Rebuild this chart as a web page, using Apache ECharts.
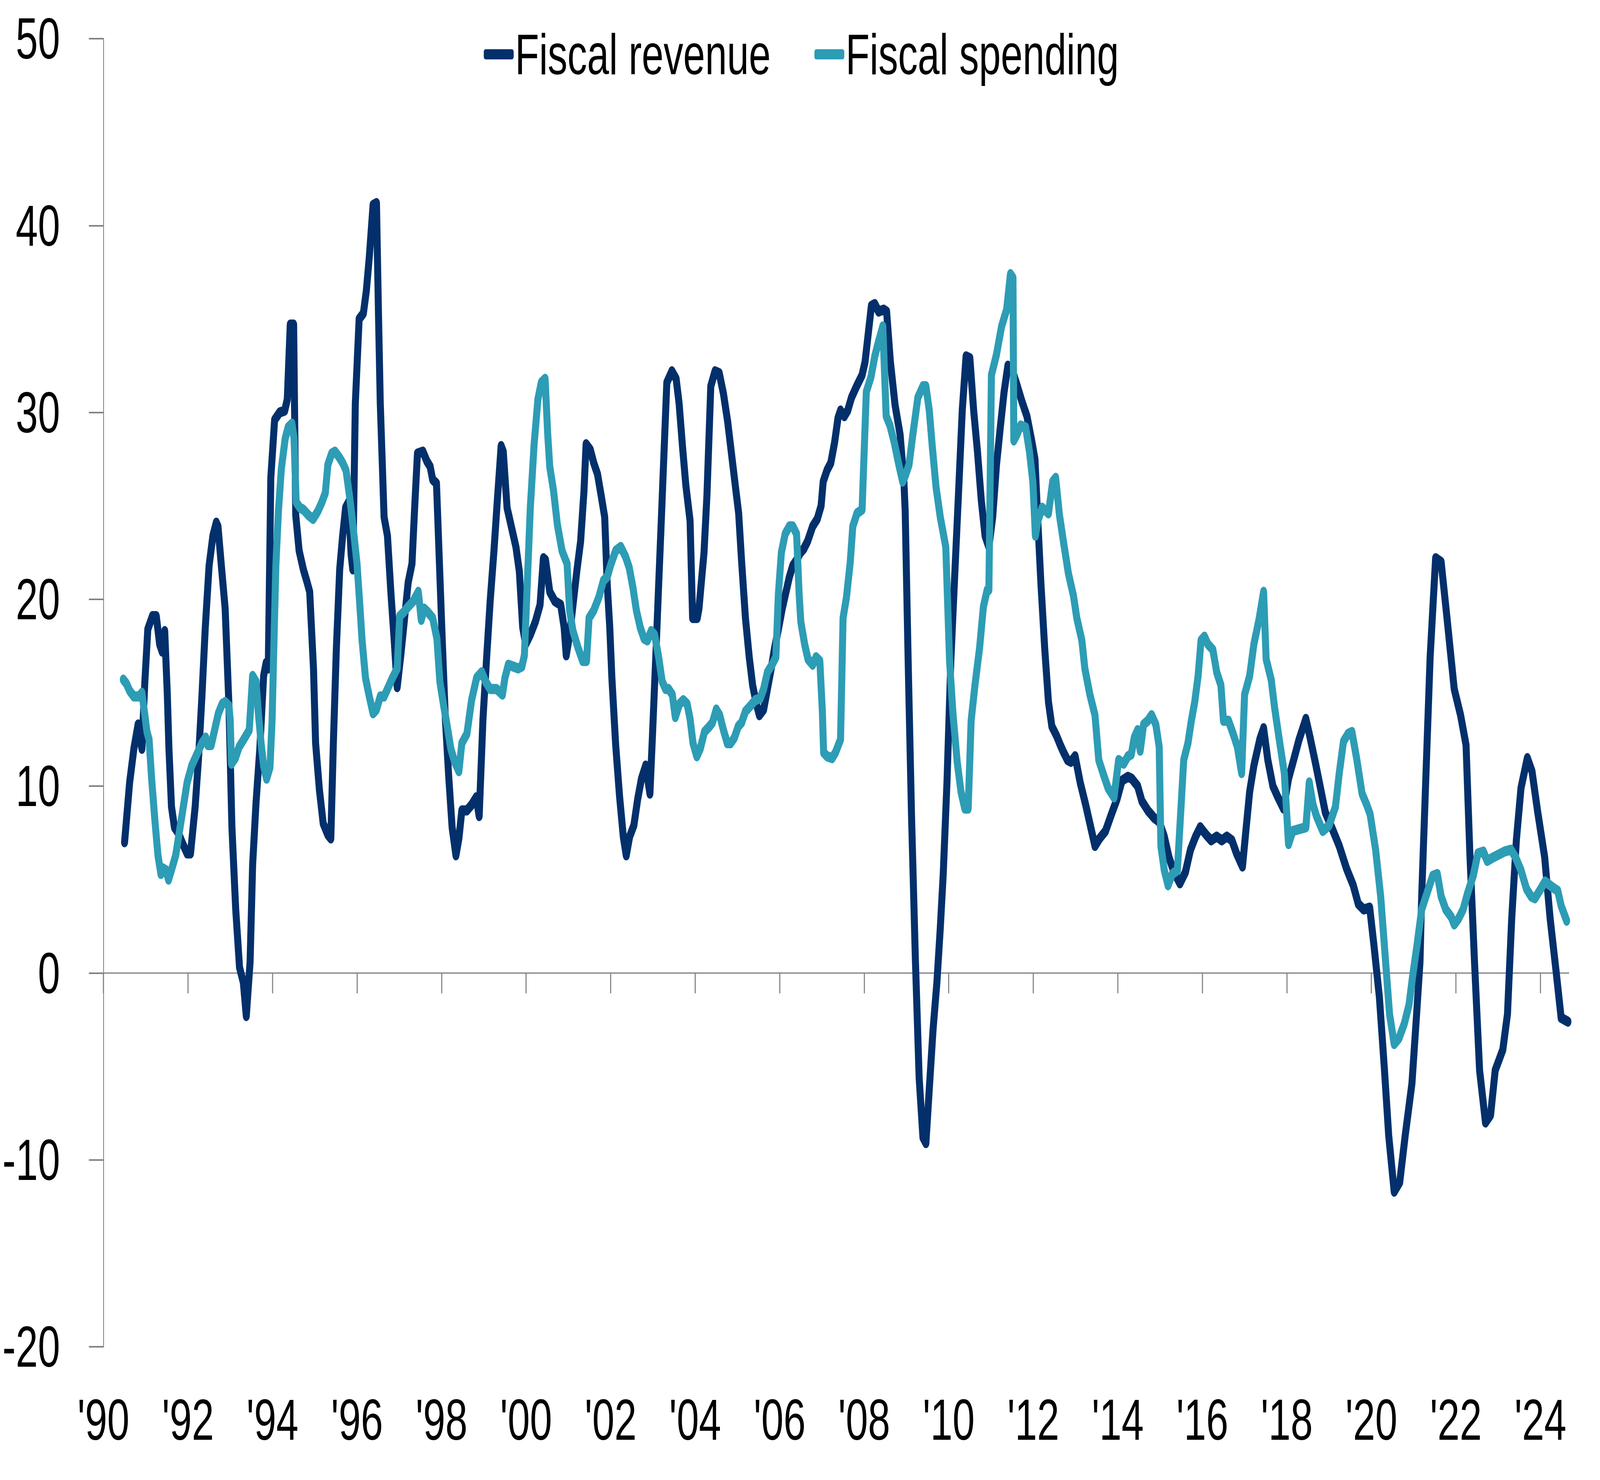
<!DOCTYPE html>
<html>
<head>
<meta charset="utf-8">
<script src="https://cdn.jsdelivr.net/npm/echarts@6/dist/echarts.min.js"></script>
<style>
html,body{margin:0;padding:0;background:#ffffff;overflow:hidden;width:100%;height:100%;}
#wrap{position:absolute;left:0;top:0;width:5940px;height:3788px;transform-origin:0 0;}
#chart{width:5940px;height:3788px;}
</style>
</head>
<body>
<div id="wrap"><div id="chart"></div></div>
<script>
const seriesNames = ['Fiscal revenue', 'Fiscal spending'];
const tickYears = [1990,1992,1994,1996,1998,2000,2002,2004,2006,2008,2010,2012,2014,2016,2018,2020,2022,2024];

const revenueYears = [
1990.50,1990.62,1990.72,1990.82,1990.91,1990.98,1991.05,1991.16,1991.25,1991.33,1991.39,1991.45,1991.51,1991.55,1991.61,1991.68,1991.77,1991.86,1991.98,
1992.06,1992.17,1992.25,1992.33,1992.41,1992.50,1992.59,1992.67,1992.71,1992.79,1992.88,1992.97,1993.04,1993.13,1993.22,1993.31,1993.38,1993.47,1993.53,
1993.61,1993.70,1993.79,1993.85,1993.90,1993.96,1994.05,1994.17,1994.29,1994.35,1994.42,1994.50,1994.55,1994.63,1994.73,1994.82,1994.88,1994.97,1995.02,
1995.11,1995.20,1995.31,1995.38,1995.44,1995.51,1995.59,1995.66,1995.73,1995.80,1995.86,1995.90,1995.96,1996.05,1996.15,1996.22,1996.29,1996.38,1996.46,
1996.51,1996.55,1996.64,1996.72,1996.80,1996.88,1996.95,1997.04,1997.13,1997.21,1997.30,1997.37,1997.43,1997.56,1997.65,1997.73,1997.79,1997.88,1997.95,
1998.02,1998.09,1998.17,1998.25,1998.34,1998.41,1998.48,1998.60,1998.71,1998.82,1998.89,1998.98,1999.07,1999.15,1999.24,1999.32,1999.41,1999.46,1999.55,
1999.67,1999.76,1999.84,1999.92,1999.99,2000.10,2000.22,2000.33,2000.41,2000.46,2000.56,2000.68,2000.82,2000.90,2000.95,2001.03,2001.11,2001.20,2001.29,
2001.37,2001.42,2001.52,2001.60,2001.69,2001.78,2001.86,2001.92,2001.98,2002.03,2002.12,2002.21,2002.30,2002.37,2002.45,2002.55,2002.64,2002.73,2002.83,
2002.93,2002.99,2003.07,2003.13,2003.19,2003.25,2003.33,2003.45,2003.55,2003.62,2003.70,2003.78,2003.88,2003.94,2004.05,2004.09,2004.21,2004.28,2004.37,
2004.47,2004.57,2004.67,2004.77,2004.87,2004.96,2005.03,2005.10,2005.19,2005.28,2005.36,2005.45,2005.52,2005.62,2005.71,2005.80,2005.88,2005.97,2006.06,
2006.14,2006.23,2006.31,2006.40,2006.49,2006.57,2006.66,2006.78,2006.89,2006.98,2007.03,2007.12,2007.21,2007.30,2007.38,2007.44,2007.53,2007.61,2007.70,
2007.82,2007.95,2008.02,2008.10,2008.17,2008.25,2008.34,2008.46,2008.53,2008.62,2008.73,2008.85,2008.94,2008.97,2009.04,2009.12,2009.21,2009.30,2009.39,
2009.46,2009.54,2009.63,2009.72,2009.80,2009.87,2009.96,2010.05,2010.14,2010.23,2010.32,2010.41,2010.50,2010.59,2010.68,2010.77,2010.86,2010.95,2011.04,
2011.13,2011.22,2011.31,2011.40,2011.51,2011.61,2011.73,2011.85,2011.97,2012.04,2012.11,2012.18,2012.27,2012.36,2012.44,2012.55,2012.64,2012.72,2012.81,
2012.89,2012.99,2013.11,2013.24,2013.36,2013.46,2013.57,2013.71,2013.85,2013.98,2014.10,2014.24,2014.33,2014.47,2014.57,2014.71,2014.86,2014.98,2015.10,
2015.21,2015.33,2015.47,2015.60,2015.72,2015.84,2015.95,2016.09,2016.21,2016.34,2016.46,2016.58,2016.70,2016.81,2016.95,2017.03,2017.12,2017.22,2017.36,
2017.45,2017.55,2017.67,2017.79,2017.92,2018.04,2018.16,2018.29,2018.45,2018.55,2018.68,2018.76,2018.91,2019.06,2019.24,2019.41,2019.57,2019.69,2019.82,
2019.96,2020.06,2020.19,2020.31,2020.41,2020.54,2020.67,2020.80,2020.96,2021.07,2021.15,2021.19,2021.28,2021.39,2021.52,2021.65,2021.78,2021.96,2022.11,
2022.24,2022.33,2022.44,2022.56,2022.70,2022.82,2022.93,2023.11,2023.22,2023.32,2023.43,2023.54,2023.69,2023.80,2023.93,2024.10,2024.23,2024.37,2024.49,
2024.65
];
const revenueValues = [
7.0,10.2,12.0,13.3,12.0,15.6,18.4,19.1,19.1,17.6,17.2,18.3,15.0,12.0,8.9,7.8,7.5,7.0,6.4,
6.4,8.9,11.5,14.8,18.5,21.8,23.4,24.1,23.9,21.8,19.5,14.3,7.8,3.4,0.3,-0.5,-2.3,0.6,5.8,
9.1,12.0,15.9,16.6,16.3,26.5,29.6,30.0,30.1,30.7,34.7,34.7,24.5,22.6,21.6,20.9,20.4,16.3,12.3,
9.8,8.0,7.4,7.2,12.3,17.3,21.6,23.4,24.9,25.2,22.4,21.6,30.5,35.0,35.3,36.5,38.3,41.1,41.2,
35.0,30.5,24.4,23.4,20.4,17.8,15.3,17.1,19.1,20.9,21.9,25.2,27.8,27.9,27.4,27.1,26.4,26.2,21.9,
17.6,13.6,10.5,7.8,6.3,7.2,8.7,8.7,9.0,9.4,8.4,13.6,17.0,19.9,22.6,25.3,28.2,27.9,24.9,
23.7,22.8,21.5,18.5,17.6,18.1,18.8,19.7,22.2,22.1,20.4,19.9,19.7,18.5,17.0,18.1,19.7,21.5,23.1,
25.8,28.3,28.0,27.3,26.7,25.5,24.4,20.8,18.5,15.8,12.2,9.5,7.3,6.3,7.3,7.9,9.3,10.4,11.1,
9.6,12.7,17.0,20.4,23.7,27.1,31.6,32.2,31.8,30.5,28.2,26.1,24.2,19.0,19.0,19.5,22.5,25.6,31.4,
32.2,32.1,31.0,29.5,27.6,25.9,24.6,22.0,19.0,16.9,15.4,14.4,13.8,14.1,15.2,16.3,17.4,18.4,19.5,
20.3,21.2,21.8,22.1,22.5,22.7,23.1,23.9,24.3,25.0,26.3,26.9,27.3,28.4,29.7,30.1,29.8,30.1,30.8,
31.4,32.0,32.7,34.3,35.7,35.8,35.4,35.5,35.4,32.7,30.4,28.8,26.3,24.7,16.7,8.4,0.8,-5.6,-8.8,
-9.1,-6.2,-3.0,-0.5,2.4,5.3,10.3,16.7,21.2,25.6,30.1,33.0,32.9,30.1,27.9,25.3,23.4,22.8,24.4,
27.2,29.2,31.1,32.5,32.2,31.5,30.6,29.8,28.4,27.5,24.1,20.9,17.4,14.5,13.2,12.7,12.2,11.8,11.4,
11.3,11.6,10.2,9.0,7.8,6.8,7.2,7.6,8.5,9.3,10.3,10.5,10.4,10.0,9.2,8.7,8.3,8.1,7.3,
6.2,5.4,4.8,5.4,6.6,7.3,7.8,7.4,7.1,7.3,7.1,7.3,7.1,6.4,5.7,7.6,9.7,11.1,12.5,
13.1,11.4,10.0,9.4,8.8,10.4,11.4,12.5,13.6,12.6,11.2,10.3,8.6,7.8,6.8,5.6,4.7,3.7,3.4,
3.5,1.5,-1.3,-5.2,-8.7,-11.7,-11.2,-8.7,-5.9,-2.2,0.6,4.1,9.9,16.9,22.2,22.0,19.2,15.2,13.8,
12.2,6.4,0.6,-5.2,-8.0,-7.6,-5.2,-4.1,-2.2,2.9,7.1,9.9,11.5,10.8,8.7,6.2,2.9,0.1,-2.4,
-2.6
];

const spendingYears = [
1990.47,1990.54,1990.62,1990.72,1990.84,1990.91,1990.98,1991.03,1991.08,1991.14,1991.22,1991.29,1991.36,1991.41,1991.48,1991.54,1991.62,1991.71,1991.80,
1991.89,1991.98,1992.09,1992.21,1992.33,1992.42,1992.47,1992.55,1992.63,1992.72,1992.81,1992.88,1992.97,1993.00,1993.03,1993.12,1993.21,1993.32,1993.45,
1993.53,1993.61,1993.67,1993.73,1993.79,1993.86,1993.94,1993.99,1994.04,1994.08,1994.14,1994.21,1994.30,1994.37,1994.46,1994.51,1994.56,1994.65,1994.73,
1994.85,1994.96,1995.07,1995.17,1995.25,1995.31,1995.40,1995.48,1995.58,1995.66,1995.74,1995.83,1995.92,1996.00,1996.06,1996.12,1996.20,1996.29,1996.38,
1996.46,1996.55,1996.64,1996.72,1996.84,1996.95,1997.01,1997.10,1997.21,1997.33,1997.45,1997.52,1997.59,1997.68,1997.79,1997.89,1997.96,1998.05,1998.12,
1998.22,1998.31,1998.41,1998.48,1998.60,1998.71,1998.83,1998.95,1999.04,1999.15,1999.30,1999.44,1999.50,1999.58,1999.70,1999.81,1999.90,1999.96,2000.04,
2000.10,2000.19,2000.28,2000.36,2000.45,2000.51,2000.56,2000.65,2000.74,2000.85,2000.97,2001.03,2001.11,2001.23,2001.34,2001.43,2001.49,2001.60,2001.72,
2001.83,2001.92,2002.01,2002.12,2002.24,2002.35,2002.44,2002.53,2002.61,2002.70,2002.79,2002.87,2002.96,2003.04,2003.13,2003.22,2003.30,2003.37,2003.46,
2003.53,2003.63,2003.72,2003.81,2003.88,2003.95,2004.04,2004.12,2004.22,2004.34,2004.41,2004.50,2004.58,2004.67,2004.76,2004.84,2004.93,2005.02,2005.10,
2005.19,2005.31,2005.42,2005.54,2005.62,2005.71,2005.82,2005.91,2005.97,2006.04,2006.13,2006.23,2006.31,2006.40,2006.46,2006.50,2006.59,2006.67,2006.78,
2006.86,2006.95,2007.01,2007.04,2007.12,2007.24,2007.32,2007.44,2007.50,2007.58,2007.67,2007.73,2007.83,2007.95,2008.05,2008.16,2008.25,2008.34,2008.44,
2008.52,2008.61,2008.71,2008.82,2008.91,2008.97,2009.06,2009.15,2009.27,2009.39,2009.46,2009.54,2009.61,2009.70,2009.80,2009.93,2010.02,2010.10,2010.20,
2010.29,2010.38,2010.46,2010.53,2010.62,2010.73,2010.82,2010.91,2010.95,2011.01,2011.13,2011.25,2011.37,2011.46,2011.52,2011.54,2011.61,2011.70,2011.82,
2011.91,2011.99,2012.05,2012.11,2012.21,2012.36,2012.46,2012.53,2012.62,2012.72,2012.83,2012.95,2013.03,2013.15,2013.22,2013.34,2013.46,2013.55,2013.65,
2013.77,2013.91,2014.02,2014.14,2014.24,2014.32,2014.39,2014.47,2014.53,2014.61,2014.71,2014.80,2014.90,2014.98,2015.02,2015.10,2015.19,2015.29,2015.41,
2015.56,2015.66,2015.74,2015.82,2015.90,2015.97,2016.05,2016.13,2016.25,2016.34,2016.44,2016.50,2016.62,2016.73,2016.83,2016.93,2017.00,2017.12,2017.22,
2017.34,2017.45,2017.51,2017.63,2017.71,2017.82,2017.94,2018.04,2018.14,2018.29,2018.45,2018.53,2018.62,2018.70,2018.85,2019.00,2019.15,2019.24,2019.34,
2019.45,2019.54,2019.65,2019.78,2019.89,2019.97,2020.10,2020.22,2020.33,2020.43,2020.54,2020.65,2020.78,2020.89,2020.98,2021.08,2021.19,2021.32,2021.45,
2021.56,2021.65,2021.76,2021.89,2021.96,2022.06,2022.17,2022.28,2022.41,2022.52,2022.65,2022.74,2022.89,2023.15,2023.30,2023.41,2023.54,2023.67,2023.78,
2023.87,2023.98,2024.11,2024.28,2024.41,2024.49,2024.62
];
const spendingValues = [
15.7,15.5,15.1,14.8,14.8,15.0,13.8,12.9,12.5,10.4,8.1,6.3,5.3,5.6,5.5,5.0,5.6,6.3,7.6,
8.9,10.2,11.1,11.7,12.3,12.6,12.2,12.2,13.0,13.9,14.4,14.5,14.3,13.5,11.2,11.5,12.1,12.5,13.0,
15.9,15.6,13.8,12.3,11.1,10.4,11.0,13.5,18.2,21.8,24.7,27.0,28.6,29.2,29.4,28.6,25.2,24.9,24.8,
24.5,24.3,24.7,25.2,25.7,27.2,27.8,27.9,27.6,27.3,26.9,25.4,23.6,21.9,19.9,17.8,15.8,14.8,13.9,
14.1,14.8,14.8,15.2,15.8,16.3,19.1,19.3,19.6,19.9,20.4,18.9,19.5,19.3,19.0,17.9,15.6,14.3,13.4,
12.0,11.3,10.8,12.3,12.8,14.6,15.8,16.1,15.6,15.2,15.2,14.9,15.8,16.5,16.4,16.3,16.4,17.0,21.5,
24.9,28.3,30.7,31.6,31.8,28.9,27.1,25.8,24.0,22.6,21.9,19.4,18.3,17.4,16.7,16.7,19.0,19.4,20.1,
21.0,21.2,21.9,22.6,22.8,22.3,21.7,20.6,19.4,18.5,17.9,17.8,18.3,18.1,17.0,15.6,15.2,15.2,14.9,
13.7,14.4,14.6,14.4,13.6,12.3,11.6,12.0,12.9,13.2,13.4,14.1,13.8,13.0,12.3,12.3,12.6,13.2,13.4,
14.0,14.3,14.6,14.7,15.2,16.1,16.5,16.9,20.3,22.5,23.5,23.9,23.9,23.5,20.3,18.8,17.6,16.8,16.5,
16.9,16.7,14.0,11.8,11.6,11.5,11.8,12.5,19.0,20.1,22.0,23.9,24.6,24.8,31.1,31.9,33.0,33.8,34.6,
29.8,29.3,28.4,27.2,26.3,26.6,27.2,28.8,30.8,31.4,31.4,30.1,28.2,26.0,24.4,22.8,16.7,13.9,11.3,
9.7,8.8,8.8,13.5,15.4,17.4,19.6,20.5,20.5,32.0,33.1,34.6,35.5,37.4,37.2,28.5,28.8,29.3,29.2,
27.9,26.3,23.4,24.2,24.9,24.6,26.3,26.5,24.5,23.0,21.4,20.2,19.0,17.8,16.3,14.9,13.8,11.4,10.7,
9.9,9.4,11.4,11.2,11.6,11.7,12.6,13.0,11.9,13.3,13.5,13.8,13.3,12.1,6.8,5.5,4.7,5.3,5.5,
11.4,12.3,13.5,14.5,15.9,17.8,18.0,17.6,17.3,16.1,15.4,13.5,13.5,12.8,12.1,10.7,14.9,15.9,17.6,
18.9,20.4,16.8,15.7,14.2,12.5,10.7,6.9,7.6,7.7,7.8,10.2,9.0,8.4,7.6,7.9,8.9,10.7,12.4,
12.8,12.9,11.5,9.6,9.0,8.5,6.6,4.1,0.8,-2.2,-3.8,-3.5,-2.7,-1.7,-0.1,1.5,3.4,4.3,5.2,
5.3,4.1,3.4,3.0,2.6,2.9,3.4,4.3,5.2,6.4,6.5,6.0,6.2,6.5,6.6,6.2,5.5,4.5,4.1,
4.0,4.4,4.9,4.6,4.4,3.6,2.8
];

const xMin = 1990;
const xMax = 2024.67;
const yMin = -20;
const yMax = 50;
const yStep = 10;

const FONT = 'Liberation Sans';
const AXIS_GRAY = '#808080';
const NAVY = '#03306B';
const TEAL = '#2D9CB5';

function zip(xs, vs) { return xs.map((x, i) => [x, vs[i]]); }

// fit the 5940x3788 design into whatever viewport the page actually gets
(function fit() {
  const vw = document.documentElement.clientWidth || window.innerWidth || 5940;
  const vh = document.documentElement.clientHeight || window.innerHeight || 3788;
  const sx = vw / 5940, sy = vh / 3788;
  if (Math.abs(sx - 1) > 0.002 || Math.abs(sy - 1) > 0.002) {
    document.getElementById('wrap').style.transform = 'scale(' + sx + ',' + sy + ')';
  }
})();

const chart = echarts.init(document.getElementById('chart'), null, { renderer: 'svg', width: 5940, height: 3788 });
chart.setOption({
  animation: false,
  backgroundColor: '#ffffff',
  textStyle: { fontFamily: FONT },
  legend: {
    left: 1791,
    top: 61,
    itemWidth: 111,
    itemHeight: 26,
    itemGap: 162,
    icon: 'roundRect',
    textStyle: { fontFamily: FONT, fontSize: 146, color: '#000000' },
    data: seriesNames
  },
  grid: { left: 384, right: 116, top: 99, bottom: 341, containLabel: false },
  xAxis: [
    {
      type: 'value', min: xMin, max: xMax, interval: 2,
      axisLine: { show: true, onZero: true, lineStyle: { color: AXIS_GRAY, width: 3 } },
      axisTick: { show: true, inside: false, length: 52, customValues: tickYears, lineStyle: { color: AXIS_GRAY, width: 4 } },
      axisLabel: { show: false },
      splitLine: { show: false }
    },
    {
      type: 'value', min: xMin, max: xMax, interval: 2, position: 'bottom',
      axisLine: { show: false, onZero: false },
      axisTick: { show: false },
      axisLabel: {
        show: true, margin: 113, fontFamily: FONT, fontSize: 148, color: '#000000',
        customValues: tickYears,
        formatter: v => "'" + String(Math.round(v)).slice(2)
      },
      splitLine: { show: false }
    }
  ],
  yAxis: {
    type: 'value', min: yMin, max: yMax, interval: yStep,
    axisLine: { show: true, lineStyle: { color: AXIS_GRAY, width: 3 } },
    axisTick: { show: true, inside: false, length: 54, lineStyle: { color: AXIS_GRAY, width: 4 } },
    axisLabel: { margin: 161, fontFamily: FONT, fontSize: 148, color: '#000000' },
    splitLine: { show: false }
  },
  series: [
    {
      name: seriesNames[0], type: 'line', xAxisIndex: 0, showSymbol: false, symbol: 'none',
      data: zip(revenueYears, revenueValues),
      lineStyle: { color: NAVY, width: 26, cap: 'round', join: 'round' },
      itemStyle: { color: NAVY }
    },
    {
      name: seriesNames[1], type: 'line', xAxisIndex: 0, showSymbol: false, symbol: 'none',
      data: zip(spendingYears, spendingValues),
      lineStyle: { color: TEAL, width: 26, cap: 'round', join: 'round' },
      itemStyle: { color: TEAL }
    }
  ]
});
</script>
</body>
</html>
